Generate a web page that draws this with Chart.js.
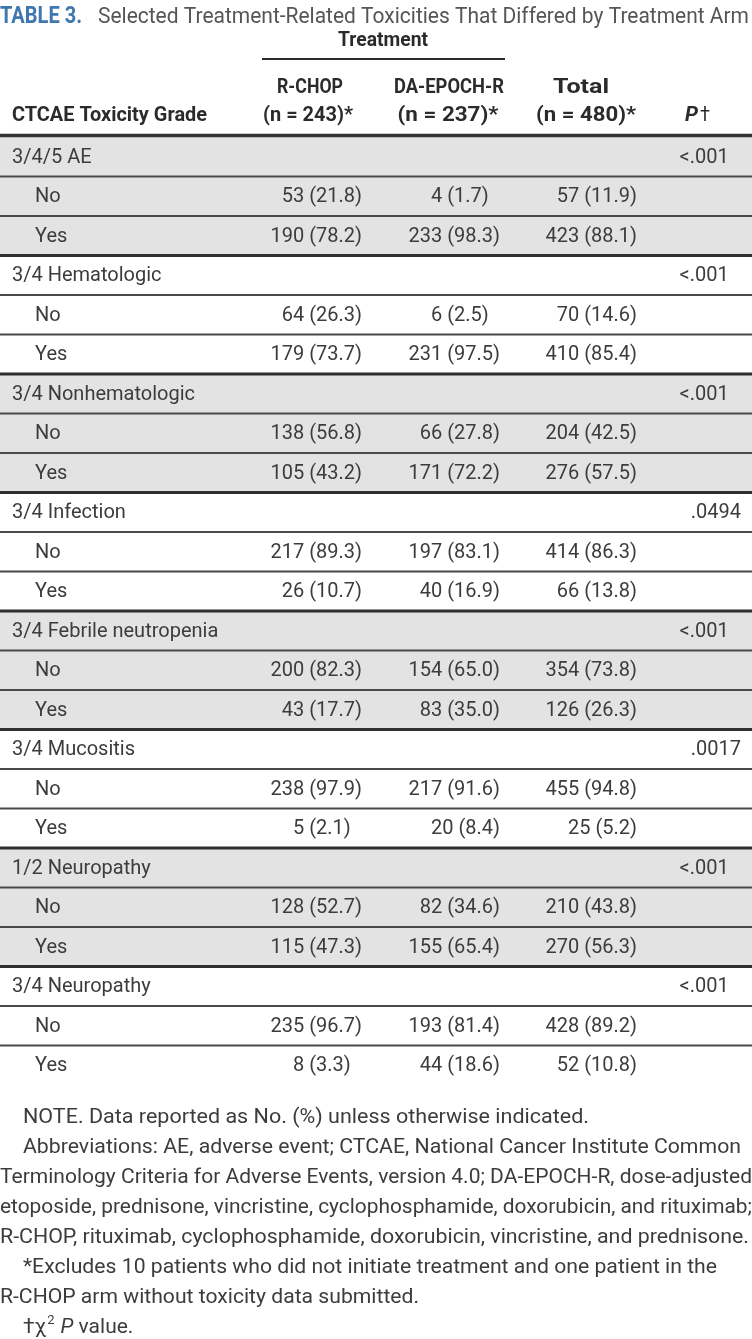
<!DOCTYPE html>
<html>
<head>
<meta charset="utf-8">
<script src="https://cdn.jsdelivr.net/npm/chart.js@4.4.1/dist/chart.umd.min.js"></script>
<style>
  html, body { margin: 0; padding: 0; background: #fff; }
  #wrap { width: 752px; height: 1339px; position: relative; }
</style>
</head>
<body>
<div id="wrap"><canvas id="toxTable"></canvas></div>
<script>
// Table data
const groups = ['3/4/5 AE', '3/4 Hematologic', '3/4 Nonhematologic', '3/4 Infection',
  '3/4 Febrile neutropenia', '3/4 Mucositis', '1/2 Neuropathy', '3/4 Neuropathy'];
const pValues = ['<.001', '<.001', '<.001', '.0494', '<.001', '.0017', '<.001', '<.001'];

const rchopNo = [53, 64, 138, 217, 200, 238, 128, 235];
const rchopNoPct = [21.8, 26.3, 56.8, 89.3, 82.3, 97.9, 52.7, 96.7];
const rchopYes = [190, 179, 105, 26, 43, 5, 115, 8];
const rchopYesPct = [78.2, 73.7, 43.2, 10.7, 17.7, 2.1, 47.3, 3.3];

const daNo = [4, 6, 66, 197, 154, 217, 82, 193];
const daNoPct = [1.7, 2.5, 27.8, 83.1, 65.0, 91.6, 34.6, 81.4];
const daYes = [233, 231, 171, 40, 83, 20, 155, 44];
const daYesPct = [98.3, 97.5, 72.2, 16.9, 35.0, 8.4, 65.4, 18.6];

const totNo = [57, 70, 204, 414, 354, 455, 210, 428];
const totNoPct = [11.9, 14.6, 42.5, 86.3, 73.8, 94.8, 43.8, 89.2];
const totYes = [423, 410, 276, 66, 126, 25, 270, 52];
const totYesPct = [88.1, 85.4, 57.5, 13.8, 26.3, 5.2, 56.3, 10.8];

const columnHeads = ['R-CHOP', 'DA-EPOCH-R', 'Total'];
const columnNs = ['(n = 243)*', '(n = 237)*', '(n = 480)*'];

const notes = [
  'NOTE. Data reported as No. (%) unless otherwise indicated.',
  'Abbreviations: AE, adverse event; CTCAE, National Cancer Institute Common',
  'Terminology Criteria for Adverse Events, version 4.0; DA-EPOCH-R, dose-adjusted',
  'etoposide, prednisone, vincristine, cyclophosphamide, doxorubicin, and rituximab;',
  'R-CHOP, rituximab, cyclophosphamide, doxorubicin, vincristine, and prednisone.',
  '*Excludes 10 patients who did not initiate treatment and one patient in the',
  'R-CHOP arm without toxicity data submitted.'
];

// Build the 24 table rows: group header, then No / Yes
const rows = [];
groups.forEach((g, gi) => {
  rows.push({ kind: 'group', label: g, gi });
  rows.push({ kind: 'no', label: 'No', gi });
  rows.push({ kind: 'yes', label: 'Yes', gi });
});
const rowLabels = rows.map(r => r.kind + ':' + r.label + ':' + r.gi);

const W = 752;
const FAMILY = 'Roboto, "Liberation Sans", sans-serif';
const BODY_FONT = '20px ' + FAMILY;
const BOLD_FONT = 'bold 20px ' + FAMILY;
const TEXT = '#3c3c3c';

// draw text squeezed/stretched to a given width
function fitText(ctx, text, x, y, width, align) {
  const w = ctx.measureText(text).width;
  const left = align === 'center' ? x - width / 2 : align === 'right' ? x - width : x;
  ctx.save();
  ctx.translate(left, y);
  ctx.scale(width / w, 1);
  ctx.textAlign = 'left';
  ctx.fillText(text, 0, 0);
  ctx.restore();
}

function cell(n, pct) {
  return n + ' (' + pct.toFixed(1) + ')';
}

const tablePlugin = {
  id: 'tablePlugin',
  afterDatasetsDraw(chart) {
    const ctx = chart.ctx;
    const y = chart.scales.y;
    const area = chart.chartArea;
    const py = i => y.getPixelForValue(i);

    ctx.save();
    ctx.textBaseline = 'middle';

    // title
    ctx.font = 'bold 23px ' + FAMILY;
    ctx.fillStyle = '#3f77b0';
    fitText(ctx, 'TABLE 3.', 0, 17, 82, 'left');
    ctx.font = '22px ' + FAMILY;
    ctx.fillStyle = '#555';
    fitText(ctx, 'Selected Treatment-Related Toxicities That Differed by Treatment Arm', 98, 17, 651, 'left');

    // column header block
    ctx.fillStyle = '#2b2b2b';
    ctx.font = 'bold 21px ' + FAMILY;
    fitText(ctx, 'Treatment', 383, 41, 90, 'center');
    ctx.strokeStyle = '#2b2b2b';
    ctx.lineWidth = 2;
    ctx.beginPath(); ctx.moveTo(262, 59); ctx.lineTo(505, 59); ctx.stroke();

    const headX = [310, 449, 581];
    const headW = [66, 110, 56];
    const nX = [308, 448, 586];
    const nW = [90, 101, 100];
    columnHeads.forEach((h, i) => fitText(ctx, h, headX[i], 88, headW[i], 'center'));
    columnNs.forEach((h, i) => fitText(ctx, h, nX[i], 116, nW[i], 'center'));
    fitText(ctx, 'CTCAE Toxicity Grade', 12, 116, 195, 'left');
    ctx.font = 'italic bold 21px ' + FAMILY;
    fitText(ctx, 'P', 685, 116, 13, 'left');
    ctx.font = '20px ' + FAMILY;
    fitText(ctx, '\u2020', 700, 116, 10, 'left');

    // rules between rows
    ctx.strokeStyle = '#333';
    ctx.lineWidth = 3.5;
    ctx.beginPath(); ctx.moveTo(0, area.top - 1.5); ctx.lineTo(W, area.top - 1.5); ctx.stroke();
    for (let i = 0; i < rows.length - 1; i++) {
      const yy = (py(i) + py(i + 1)) / 2;
      const blockEnd = (i + 1) % 3 === 0;
      ctx.lineWidth = blockEnd ? 3 : 1.8;
      ctx.strokeStyle = blockEnd ? '#2f2f2f' : '#4a4a4a';
      ctx.beginPath(); ctx.moveTo(0, yy); ctx.lineTo(W, yy); ctx.stroke();
    }

    // cell text
    ctx.font = BODY_FONT;
    ctx.fillStyle = TEXT;
    const digitW = ctx.measureText('0').width;
    const colRight = [362, 500, 637];
    const putNum = (n, pct, ci, yy) => {
      ctx.textAlign = 'right';
      ctx.fillText(cell(n, pct), colRight[ci] - (n < 10 ? digitW : 0), yy);
    };
    rows.forEach((r, i) => {
      const yy = py(i) + 1;
      ctx.textAlign = 'left';
      if (r.kind === 'group') {
        ctx.fillText(r.label, 12, yy);
        const p = pValues[r.gi];
        ctx.textAlign = 'right';
        ctx.fillText(p, 741 - (p[0] === '<' ? digitW + 1 : 0), yy);
      } else {
        ctx.fillText(r.label, 35, yy);
        const g = r.gi;
        if (r.kind === 'no') {
          putNum(rchopNo[g], rchopNoPct[g], 0, yy);
          putNum(daNo[g], daNoPct[g], 1, yy);
          putNum(totNo[g], totNoPct[g], 2, yy);
        } else {
          putNum(rchopYes[g], rchopYesPct[g], 0, yy);
          putNum(daYes[g], daYesPct[g], 1, yy);
          putNum(totYes[g], totYesPct[g], 2, yy);
        }
      }
    });

    // footnotes
    ctx.font = '21px ' + FAMILY;
    const noteY = 1118, noteStep = 30;
    const noteX0 = [23, 23, 0, 0, 0, 23, 0];
    const noteX1 = [589, 741, 752, 752, 749, 717, 419];
    notes.forEach((t, i) => {
      fitText(ctx, t, noteX0[i], noteY + i * noteStep, noteX1[i] - noteX0[i], 'left');
    });
    // last note: dagger chi-square P value
    const ly = noteY + notes.length * noteStep;
    ctx.textAlign = 'left';
    let x = 23;
    ctx.fillText('\u2020\u03c7', x, ly);
    x += ctx.measureText('\u2020\u03c7').width + 1;
    ctx.font = '13px ' + FAMILY;
    ctx.fillText('2', x, ly - 7);
    x += ctx.measureText('2').width + 6;
    ctx.font = 'italic 21px ' + FAMILY;
    ctx.fillText('P', x, ly);
    x += ctx.measureText('P').width;
    ctx.font = '21px ' + FAMILY;
    ctx.fillText(' value.', x, ly);

    ctx.restore();
  }
};

new Chart(document.getElementById('toxTable'), {
  type: 'bar',
  data: {
    labels: rowLabels,
    datasets: [{
      label: 'shade',
      data: rows.map(r => (r.gi % 2 === 0 ? [0, W] : null)),
      backgroundColor: '#e3e3e3',
      borderWidth: 0,
      barPercentage: 1,
      categoryPercentage: 1
    }]
  },
  options: {
    indexAxis: 'y',
    responsive: true,
    maintainAspectRatio: false,
    animation: false,
    events: [],
    layout: { padding: { top: 137, bottom: 254, left: 0, right: 0 } },
    plugins: { legend: { display: false }, tooltip: { enabled: false } },
    scales: {
      x: { type: 'linear', min: 0, max: W, display: false },
      y: { type: 'category', display: false, offset: true }
    }
  },
  plugins: [tablePlugin]
});
</script>
</body>
</html>
